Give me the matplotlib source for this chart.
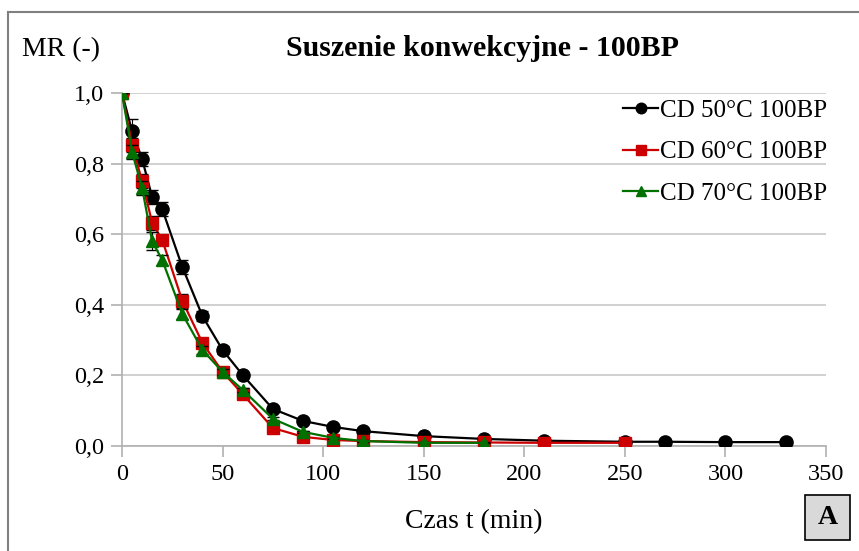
import matplotlib.pyplot as plt
from matplotlib.ticker import FuncFormatter
from matplotlib.patches import Rectangle
from matplotlib.lines import Line2D

plt.rcParams['font.family'] = ['Liberation Serif', 'DejaVu Serif']

# czas suszenia (min)
t50 = [0, 5, 10, 15, 20, 30, 40, 50, 60, 75, 90, 105, 120, 150, 180, 210, 250, 270, 300, 330]
mr50 = [1.0, 0.892, 0.813, 0.705, 0.671, 0.507, 0.368, 0.272, 0.201, 0.105, 0.071, 0.054,
        0.042, 0.028, 0.020, 0.015, 0.012, 0.012, 0.011, 0.011]
err50 = [0, 0.035, 0.02, 0.02, 0.02, 0.02, 0.015, 0.01, 0.008, 0.005, 0.004, 0.003,
         0.003, 0.002, 0.002, 0.001, 0.001, 0.001, 0.001, 0.001]

t60 = [0, 5, 10, 15, 20, 30, 40, 50, 60, 75, 90, 105, 120, 150, 180, 210, 250]
mr60 = [1.0, 0.853, 0.750, 0.632, 0.584, 0.411, 0.292, 0.210, 0.147, 0.051, 0.026, 0.017,
        0.014, 0.011, 0.010, 0.009, 0.009]
err60 = [0, 0.02, 0.02, 0.02, 0.015, 0.02, 0.01, 0.008, 0.006, 0.004, 0.003, 0.002,
         0.002, 0.001, 0.001, 0.001, 0.001]

t70 = [0, 5, 10, 15, 20, 30, 40, 50, 60, 75, 90, 105, 120, 150, 180]
mr70 = [1.0, 0.833, 0.731, 0.580, 0.527, 0.374, 0.272, 0.210, 0.159, 0.077, 0.040, 0.023,
        0.014, 0.009, 0.009]
err70 = [0, 0.02, 0.02, 0.025, 0.015, 0.015, 0.01, 0.008, 0.006, 0.004, 0.003, 0.002,
         0.002, 0.001, 0.001]

labels = ['CD 50°C 100BP', 'CD 60°C 100BP', 'CD 70°C 100BP']
colors = ['black', '#cc0000', '#007000']
markers = ['o', 's', '^']
msizes = [9.5, 8.5, 9]

fig = plt.figure(figsize=(8.59, 5.51), dpi=100)
fig.patches.append(Rectangle((8 / 859, -0.1), 1.2, 1 - 12 / 551 + 0.1, transform=fig.transFigure,
                             fill=False, edgecolor='#808080', linewidth=1.5))
ax = fig.add_axes([122 / 859, 1 - 446 / 551, (826 - 122) / 859, (446 - 93) / 551])

series = [(t50, mr50, err50), (t60, mr60, err60), (t70, mr70, err70)]
for i, (t, mr, err) in enumerate(series):
    ax.errorbar(t, mr, yerr=err, color=colors[i], marker=markers[i], markersize=msizes[i],
                linewidth=1.6, ecolor='black', elinewidth=0.8, capsize=4, zorder=3 + i)

ax.set_xlim(0, 350)
ax.set_ylim(0, 1.0)
ax.set_xticks(range(0, 351, 50))
ax.set_yticks([0, 0.2, 0.4, 0.6, 0.8, 1.0])
ax.yaxis.set_major_formatter(FuncFormatter(lambda v, p: f'{v:.1f}'.replace('.', ',')))
ax.grid(axis='y', color='#c8c8c8', linewidth=1.2)
ax.set_axisbelow(True)
for s in ['top', 'right']:
    ax.spines[s].set_visible(False)
for s in ['left', 'bottom']:
    ax.spines[s].set_color('#b0b0b0')
    ax.spines[s].set_linewidth(1.2)
ax.tick_params(axis='both', length=8, width=1.2, color='#b0b0b0', labelsize=17.5, pad=5)

ax.set_xlabel('Czas t (min)', fontsize=20, labelpad=17)
fig.text(22 / 859, 1 - 50 / 551, 'MR (-)', fontsize=20, va='center', ha='left')
fig.text(482 / 859, 1 - 49 / 551, 'Suszenie konwekcyjne - 100BP', fontsize=21.5, fontweight='bold',
         va='center', ha='center')

handles = [Line2D([], [], color=colors[i], marker=markers[i], markersize=msizes[i] * 0.8,
                  linewidth=1.6) for i in range(3)]
ax.legend(handles, labels, loc='upper right', bbox_to_anchor=(1.033, 1.045), frameon=False,
          fontsize=18, handlelength=1.4, handletextpad=0.05, labelspacing=0.75)

fig.patches.append(Rectangle((805 / 859, 1 - 540 / 551), 45 / 859, 45 / 551, transform=fig.transFigure,
                             facecolor='#d9d9d9', edgecolor='black', linewidth=1.2))
fig.text(827.5 / 859, 1 - 518 / 551, 'A', fontsize=20, fontweight='bold', ha='center', va='center')

fig.savefig('out.png', dpi=100)
